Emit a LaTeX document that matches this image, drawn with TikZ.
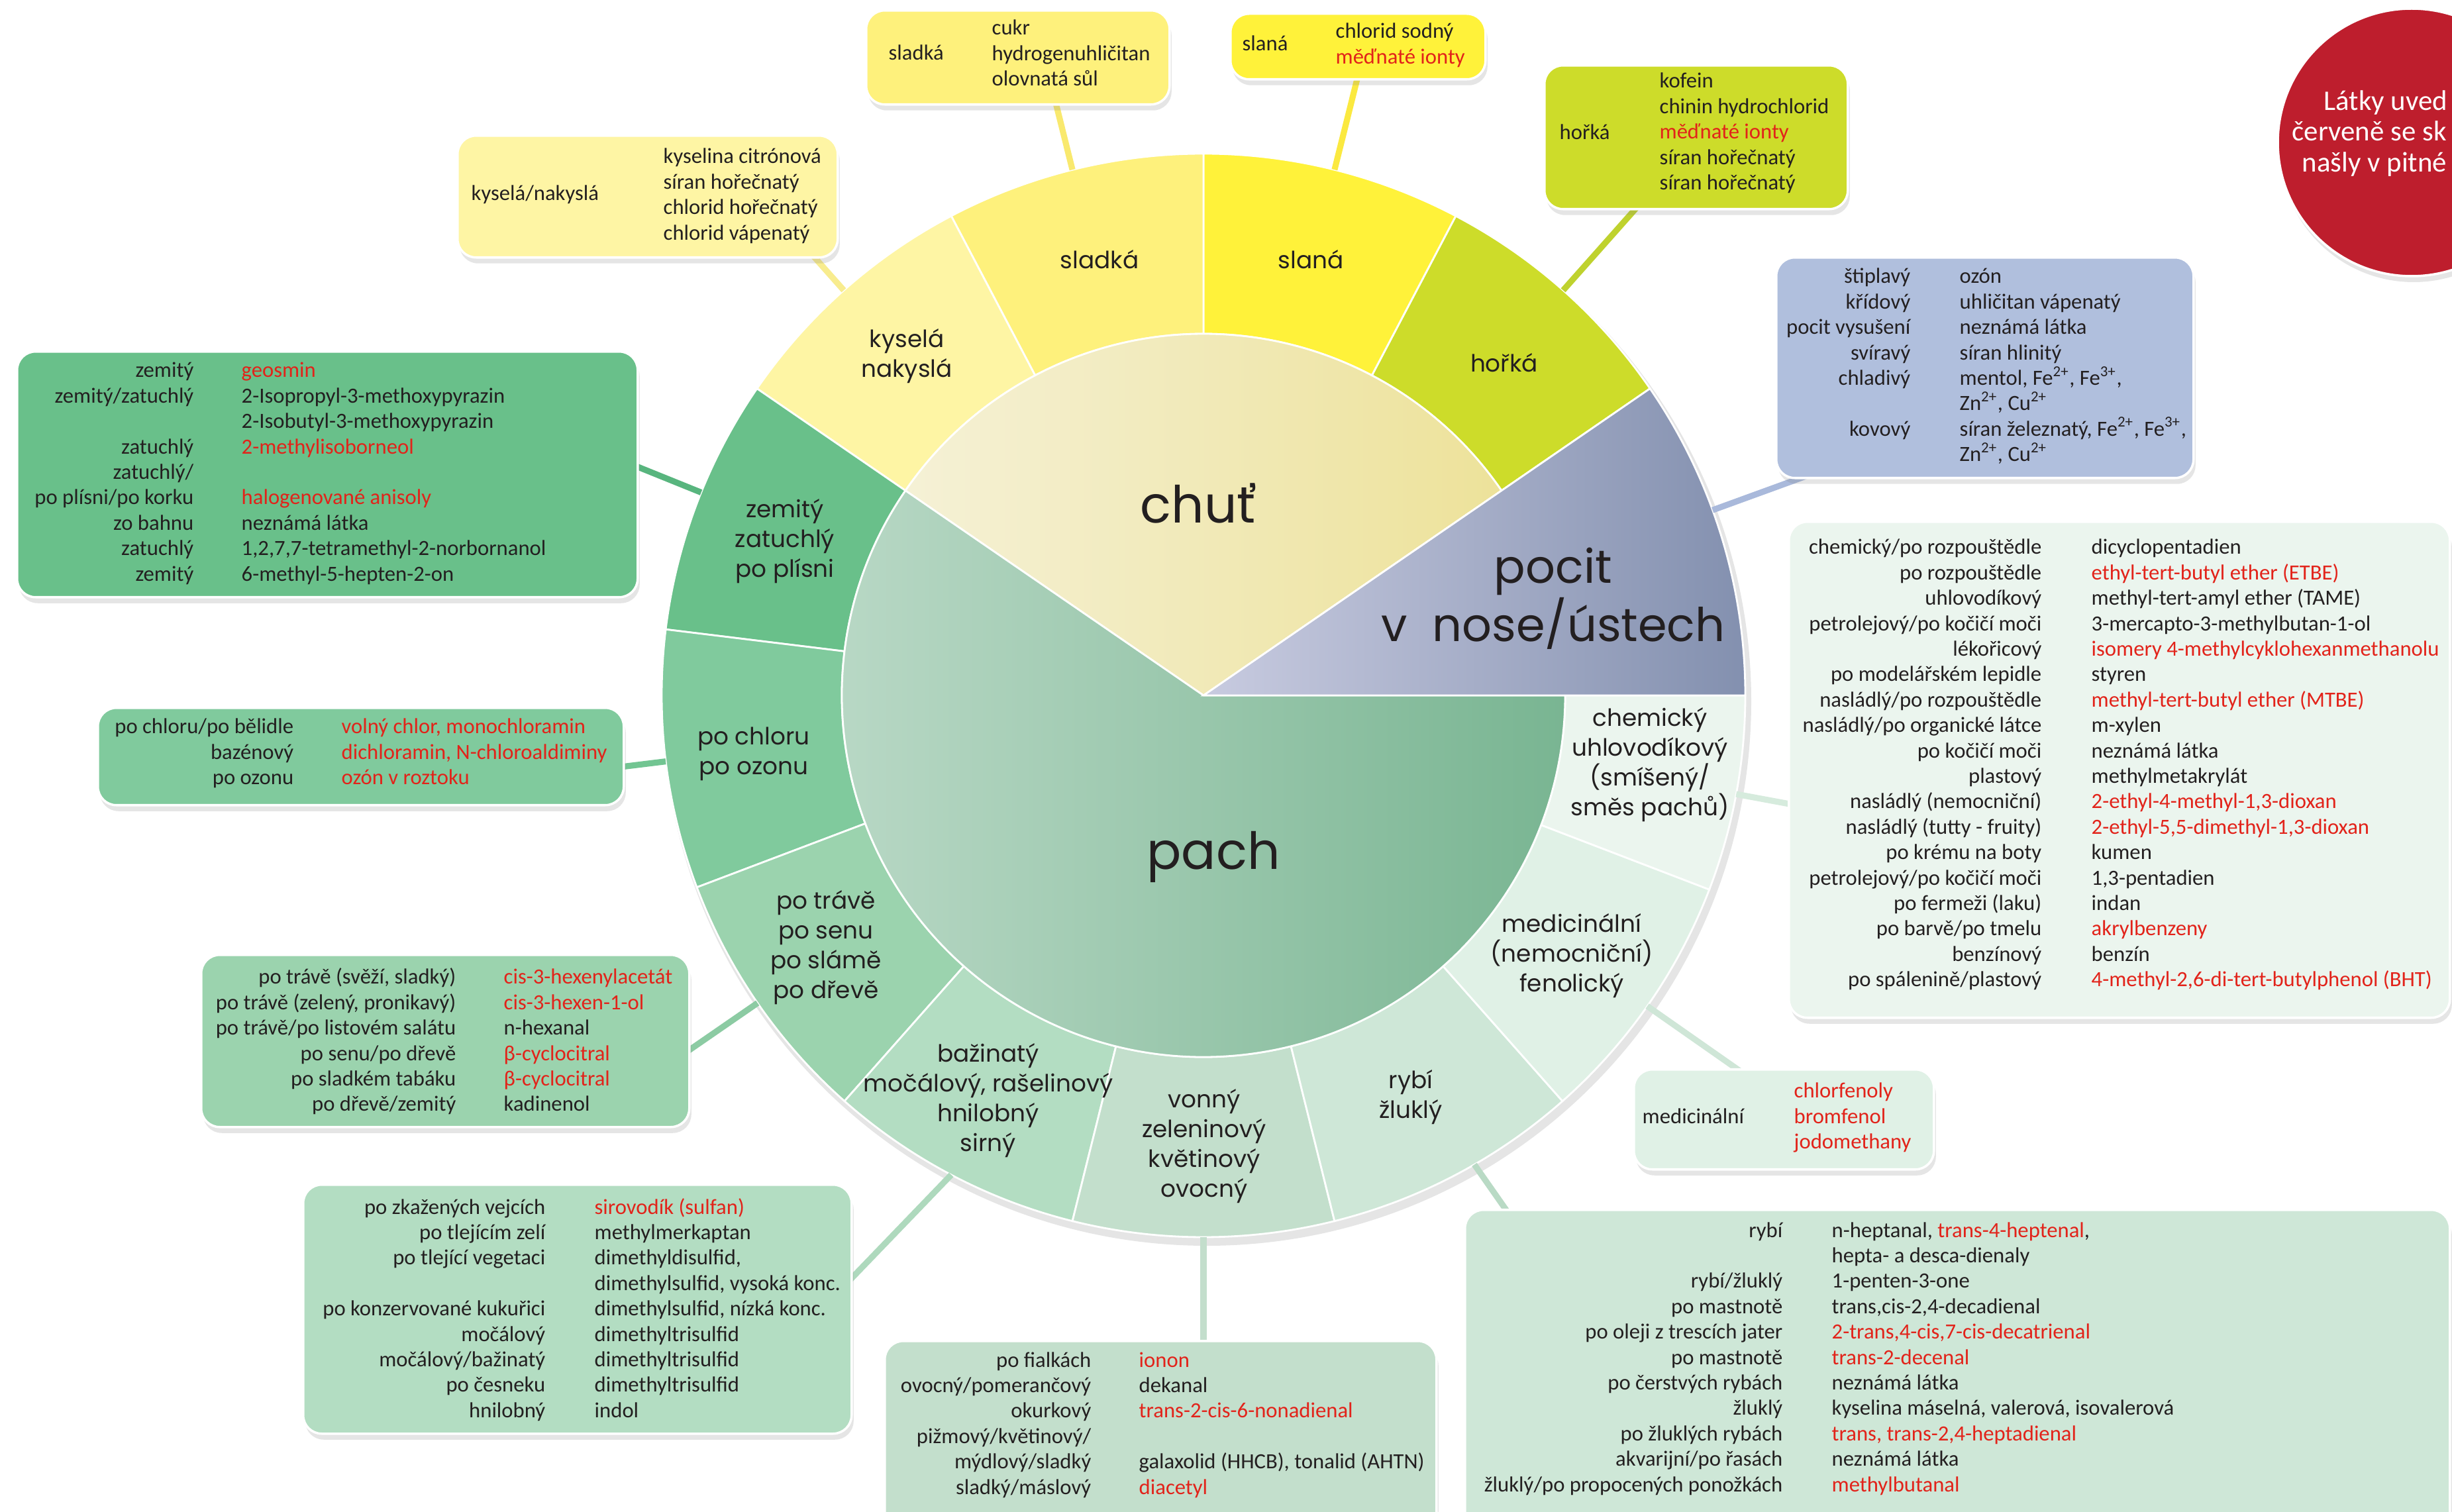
\documentclass[tikz,border=0pt]{standalone}
\usepackage{fontspec}
\setmainfont{Carlito}
\newfontfamily\wheelfont{Poppins}
\usetikzlibrary{shadows}

\definecolor{cTxt}{HTML}{231F20}
\definecolor{txtred}{HTML}{E2231A}
\definecolor{cRed}{HTML}{BE1E2D}
% wheel + box fills
\definecolor{cKys}{HTML}{FEF5A4}
\definecolor{cSlad}{HTML}{FEF17C}
\definecolor{cSlan}{HTML}{FFF23A}
\definecolor{cHork}{HTML}{CDDC2A}
\definecolor{cPocit}{HTML}{B0BFDD}
\definecolor{cZem}{HTML}{69C08A}
\definecolor{cChlor}{HTML}{80CA9D}
\definecolor{cTrava}{HTML}{9BD3AE}
\definecolor{cBazin}{HTML}{B3DDC2}
\definecolor{cVonny}{HTML}{C3DFCC}
\definecolor{cRyby}{HTML}{CEE7D7}
\definecolor{cMedic}{HTML}{E0F1E6}
\definecolor{cChem}{HTML}{EBF5EE}
% inner shading
\definecolor{chutL}{HTML}{F5F1D6}
\definecolor{chutR}{HTML}{EDE29A}
\definecolor{pocitL}{HTML}{C8CBE0}
\definecolor{pocitR}{HTML}{8390AF}
\definecolor{pachL}{HTML}{BCDAC8}
\definecolor{pachR}{HTML}{79B592}
% connectors
\definecolor{lKys}{HTML}{F8EC8E}
\definecolor{lSlad}{HTML}{F9E96E}
\definecolor{lSlan}{HTML}{FBE940}
\definecolor{lHork}{HTML}{BFD22E}
\definecolor{lPocit}{HTML}{A9B9DB}
\definecolor{lChem}{HTML}{D6EBDD}
\definecolor{lMedic}{HTML}{CFE6D7}
\definecolor{lRyby}{HTML}{B9DAC5}
\definecolor{lVonny}{HTML}{C3DECC}
\definecolor{lBazin}{HTML}{AED9BD}
\definecolor{lTrava}{HTML}{8CCBA3}
\definecolor{lChlor}{HTML}{72C592}
\definecolor{lZem}{HTML}{58B57E}

\newcommand{\rd}{\color{txtred}}
% one line per row: key right aligned, value left aligned
\newcommand{\tabrows}[5]{%
  \foreach \kk/\vv [count=\i] in {#5} {
    \node[keytxt] (#1-k\i) at (#2,{#4-(\i-1)*0.384}) {\kk};
    \node[valtxt] (#1-v\i) at (#3,{#4-(\i-1)*0.384}) {\vv};
  }}

\begin{document}
\begin{tikzpicture}[
    every node/.style={inner sep=0pt, text=cTxt},
    tbox/.style={draw=white, line width=1pt, rounded corners=0.28cm, anchor=north west,
      drop shadow={opacity=0.2, shadow xshift=0.03cm, shadow yshift=-0.09cm}},
    keytxt/.style={font=\fontsize{9.3}{11}\selectfont, anchor=base east},
    valtxt/.style={font=\fontsize{9.3}{11}\selectfont, anchor=base west},
    seglbl/.style={font=\wheelfont\fontsize{10.2}{12.8}\selectfont, align=center},
    biglbl/.style={font=\wheelfont\fontsize{22}{21.5}\selectfont, align=center},
    seg/.style={draw=white, line width=0.8pt},
    link/.style={line width=2.6pt}
  ]
    \useasboundingbox (0,0) rectangle (37.02,22.82);
    \clip (0,0) rectangle (37.02,22.82);
    \fill[white] (0,0) rectangle (37.02,22.82);

    \coordinate (C) at (18.17,12.32);

    % wheel
    \begin{scope}[shift={(C)}]
        \fill[black, opacity=0.1] (0.05,-0.09) circle (8.22);
        \foreach \a/\b/\c in {34.5/62.25/cHork, 62.25/90/cSlan, 90/117.75/cSlad,
            117.75/145.5/cKys, 145.5/173/cZem, 173/200.75/cChlor, 200.75/228.5/cTrava,
            228.5/256/cBazin, 256/284/cVonny, 284/311.5/cRyby, 311.5/339/cMedic, 339/360/cChem}
          \filldraw[seg, fill=\c] (\a:5.46) -- (\a:8.18) arc[start angle=\a, end angle=\b, radius=8.18]
            -- (\b:5.46) arc[start angle=\b, end angle=\a, radius=5.46] -- cycle;

        \draw[seg, left color=chutL, right color=chutR] (0,0) -- (34.5:5.46)
            arc[start angle=34.5, end angle=145.5, radius=5.46] -- cycle;
        \draw[seg, left color=pachL, right color=pachR] (0,0) -- (145.5:5.46)
            arc[start angle=145.5, end angle=360, radius=5.46] -- cycle;
        \draw[seg, left color=pocitL, right color=pocitR] (0,0) -- (0:8.18)
            arc[start angle=0, end angle=34.5, radius=8.18] -- cycle;
    \end{scope}

    % connectors
    \path (C) ++(131.6:8.18) coordinate (w-kys) ++(131.6:1.4) coordinate (o-kys);
    \path (C) ++(104:8.18) coordinate (w-slad) ++(104:1.9) coordinate (o-slad);
    \path (C) ++(76:8.18) coordinate (w-slan) ++(76:1.9) coordinate (o-slan);
    \path (C) ++(48.4:8.18) coordinate (w-hork) ++(48.4:2.1) coordinate (o-hork);
    \path (C) ++(20:8.18) coordinate (w-pocit) ++(20:2.2) coordinate (o-pocit);
    \path (C) ++(349.5:8.18) coordinate (w-chem) ++(349.5:1.4) coordinate (o-chem);
    \path (C) ++(325:8.18) coordinate (w-medic) ++(325:2.1) coordinate (o-medic);
    \path (C) ++(300:8.18) coordinate (w-ryby) ++(305:1.4) coordinate (o-ryby);
    \path (C) ++(270:8.18) coordinate (w-vonny) ++(270:2.1) coordinate (o-vonny);
    \path (C) ++(242.25:8.18) coordinate (w-bazin);
    \coordinate (o-bazin) at (12.55,3.2);
    \path (C) ++(214.6:8.18) coordinate (w-trava) ++(214.6:1.9) coordinate (o-trava);
    \path (C) ++(187:8.18) coordinate (w-chlor) ++(187:1.2) coordinate (o-chlor);
    \path (C) ++(158:8.18) coordinate (w-zem) ++(158:1.6) coordinate (o-zem);

    \draw[link, lKys] (w-kys) -- (o-kys);
    \draw[link, lSlad] (w-slad) -- (o-slad);
    \draw[link, lSlan] (w-slan) -- (o-slan);
    \draw[link, lHork] (w-hork) -- (o-hork);
    \draw[link, lPocit] (w-pocit) -- (o-pocit);
    \draw[link, lChem] (w-chem) -- (o-chem);
    \draw[link, lMedic] (w-medic) -- (o-medic);
    \draw[link, lRyby] (w-ryby) -- (o-ryby);
    \draw[link, lVonny] (w-vonny) -- (o-vonny);
    \draw[link, lBazin] (w-bazin) -- (o-bazin);
    \draw[link, lTrava] (w-trava) -- (o-trava);
    \draw[link, lChlor] (w-chlor) -- (o-chlor);
    \draw[link, lZem] (w-zem) -- (o-zem);

    % wheel labels
    \node[seglbl] (l-kys) at (13.69,17.44) {kyselá\\nakyslá};
    \node[seglbl] (l-slad) at (16.60,18.90) {sladká};
    \node[seglbl] (l-slan) at (19.79,18.90) {slaná};
    \node[seglbl] (l-hork) at (22.71,17.34) {hořká};
    \node[seglbl] (l-zem) at (11.85,14.65) {zemitý\\zatuchlý\\po plísni};
    \node[seglbl] (l-chlor) at (11.38,11.44) {po chloru\\po ozonu};
    \node[seglbl] (l-trava) at (12.47,8.51) {po trávě\\po senu\\po slámě\\po dřevě};
    \node[seglbl] (l-bazin) at (14.92,6.20) {bažinatý\\močálový, rašelinový\\hnilobný\\sirný};
    \node[seglbl] (l-vonny) at (18.18,5.51) {vonný\\zeleninový\\květinový\\ovocný};
    \node[seglbl] (l-ryby) at (21.30,6.25) {rybí\\žluklý};
    \node[seglbl] (l-medic) at (23.73,8.39) {medicinální\\(nemocniční)\\fenolický};
    \node[seglbl] (l-chem) at (24.91,11.27) {chemický\\uhlovodíkový\\(smíšený/\\směs pachů)};
    \node[biglbl] (l-chut) at (18.09,15.22) {chuť};
    \node[biglbl] (l-pach) at (18.32,9.88) {pach};
    \node[biglbl, font=\wheelfont\fontsize{20}{21.5}\selectfont] (l-pocit) at (23.45,13.78) {pocit\\v~ nose/ústech};

    % boxes
    \node[tbox, fill=cKys, minimum width=5.74cm, minimum height=1.84cm] (kysBox) at (6.89,20.79) {};
    \node[tbox, fill=cSlad, minimum width=4.58cm, minimum height=1.42cm] (sladBox) at (13.06,22.68) {};
    \node[tbox, fill=cSlan, minimum width=3.85cm, minimum height=0.99cm] (slanBox) at (18.56,22.63) {};
    \node[tbox, fill=cHork, minimum width=4.58cm, minimum height=2.17cm] (horkBox) at (23.30,21.85) {};
    \node[tbox, fill=cPocit, minimum width=6.30cm, minimum height=3.33cm] (pocitBox) at (26.80,18.95) {};
    \node[tbox, fill=cChem, minimum width=9.98cm, minimum height=7.49cm] (chemBox) at (26.99,14.96) {};
    \node[tbox, fill=cMedic, minimum width=4.53cm, minimum height=1.51cm] (medicBox) at (24.65,6.69) {};
    \node[tbox, fill=cRyby, minimum width=14.87cm, minimum height=5.4cm] (rybyBox) at (22.10,4.57) {};
    \node[tbox, fill=cVonny, minimum width=8.33cm, minimum height=3.4cm] (vonnyBox) at (13.34,2.59) {};
    \node[tbox, fill=cBazin, minimum width=8.28cm, minimum height=3.76cm] (bazinBox) at (4.56,4.95) {};
    \node[tbox, fill=cTrava, minimum width=7.37cm, minimum height=2.60cm] (travaBox) at (3.02,8.42) {};
    \node[tbox, fill=cChlor, minimum width=7.94cm, minimum height=1.47cm] (chlorBox) at (1.46,12.15) {};
    \node[tbox, fill=cZem, minimum width=9.37cm, minimum height=3.71cm] (zemBox) at (0.24,17.53) {};

    % box texts
    \node[valtxt] (kys-key) at (7.11,19.79) {kyselá/nakyslá};
    \tabrows{kys}{10.0}{10.01}{20.35}{{}/{kyselina citrónová}, {}/{síran hořečnatý},
      {}/{chlorid hořečnatý}, {}/{chlorid vápenatý}}

    \node[valtxt] (slad-key) at (13.41,21.91) {sladká};
    \tabrows{slad}{14.9}{14.97}{22.29}{{}/{cukr}, {}/{hydrogenuhličitan}, {}/{olovnatá sůl}}

    \node[valtxt] (slan-key) at (18.75,22.05) {slaná};
    \tabrows{slan}{20.1}{20.16}{22.24}{{}/{chlorid sodný}, {}/{\rd měďnaté ionty}}

    \node[valtxt] (hork-key) at (23.54,20.71) {hořká};
    \tabrows{hork}{25.0}{25.05}{21.49}{{}/{kofein}, {}/{chinin hydrochlorid},
      {}/{\rd měďnaté ionty}, {}/{síran hořečnatý}, {}/{síran hořečnatý}}

    \tabrows{pocit}{28.85}{29.58}{18.54}{{štiplavý}/{ozón},
      {křídový}/{uhličitan vápenatý},
      {pocit vysušení}/{neznámá látka},
      {svíravý}/{síran hlinitý},
      {chladivý}/{mentol, Fe\textsuperscript{2+}, Fe\textsuperscript{3+},},
      {}/{Zn\textsuperscript{2+}, Cu\textsuperscript{2+}},
      {kovový}/{síran železnatý, Fe\textsuperscript{2+}, Fe\textsuperscript{3+},},
      {}/{Zn\textsuperscript{2+}, Cu\textsuperscript{2+}}}

    \tabrows{chem}{30.83}{31.57}{14.45}{{chemický/po rozpouštědle}/{dicyclopentadien},
      {po rozpouštědle}/{\rd ethyl-tert-butyl ether (ETBE)},
      {uhlovodíkový}/{methyl-tert-amyl ether (TAME)},
      {petrolejový/po kočičí moči}/{3-mercapto-3-methylbutan-1-ol},
      {lékořicový}/{\rd isomery 4-methylcyklohexanmethanolu},
      {po modelářském lepidle}/{styren},
      {nasládlý/po rozpouštědle}/{\rd methyl-tert-butyl ether (MTBE)},
      {nasládlý/po organické látce}/{m-xylen},
      {po kočičí moči}/{neznámá látka},
      {plastový}/{methylmetakrylát},
      {nasládlý (nemocniční)}/{\rd 2-ethyl-4-methyl-1,3-dioxan},
      {nasládlý (tutty - fruity)}/{\rd 2-ethyl-5,5-dimethyl-1,3-dioxan},
      {po krému na boty}/{kumen},
      {petrolejový/po kočičí moči}/{1,3-pentadien},
      {po fermeži (laku)}/{indan},
      {po barvě/po tmelu}/{\rd akrylbenzeny},
      {benzínový}/{benzín},
      {po spálenině/plastový}/{\rd 4-methyl-2,6-di-tert-butylphenol (BHT)}}

    \node[valtxt] (medic-key) at (24.79,5.86) {medicinální};
    \tabrows{medic}{27.0}{27.08}{6.24}{{}/{\rd chlorfenoly}, {}/{\rd bromfenol}, {}/{\rd jodomethany}}

    \tabrows{ryby}{26.92}{27.65}{4.14}{{rybí}/{n-heptanal, {\rd trans-4-heptenal},},
      {}/{hepta- a desca-dienaly},
      {rybí/žluklý}/{1-penten-3-one},
      {po mastnotě}/{trans,cis-2,4-decadienal},
      {po oleji z trescích jater}/{\rd 2-trans,4-cis,7-cis-decatrienal},
      {po mastnotě}/{\rd trans-2-decenal},
      {po čerstvých rybách}/{neznámá látka},
      {žluklý}/{kyselina máselná, valerová, isovalerová},
      {po žluklých rybách}/{\rd trans, trans-2,4-heptadienal},
      {akvarijní/po řasách}/{neznámá látka},
      {žluklý/po propocených ponožkách}/{\rd methylbutanal}}

    \tabrows{vonny}{16.48}{17.19}{2.18}{{po fialkách}/{\rd ionon},
      {ovocný/pomerančový}/{dekanal},
      {okurkový}/{\rd trans-2-cis-6-nonadienal},
      {pižmový/květinový/}/{},
      {mýdlový/sladký}/{galaxolid (HHCB), tonalid (AHTN)},
      {sladký/máslový}/{\rd diacetyl}}

    \tabrows{bazin}{8.24}{8.97}{4.49}{{po zkažených vejcích}/{\rd sirovodík (sulfan)},
      {po tlejícím zelí}/{methylmerkaptan},
      {po tlející vegetaci}/{dimethyldisulfid,},
      {}/{dimethylsulfid, vysoká konc.},
      {po konzervované kukuřici}/{dimethylsulfid, nízká konc.},
      {močálový}/{dimethyltrisulfid},
      {močálový/bažinatý}/{dimethyltrisulfid},
      {po česneku}/{dimethyltrisulfid},
      {hnilobný}/{indol}}

    \tabrows{trava}{6.89}{7.60}{7.96}{{po trávě (svěží, sladký)}/{\rd cis-3-hexenylacetát},
      {po trávě (zelený, pronikavý)}/{\rd cis-3-hexen-1-ol},
      {po trávě/po listovém salátu}/{n-hexanal},
      {po senu/po dřevě}/{\rd β-cyclocitral},
      {po sladkém tabáku}/{\rd β-cyclocitral},
      {po dřevě/zemitý}/{kadinenol}}

    \tabrows{chlor}{4.44}{5.15}{11.74}{{po chloru/po bělidle}/{\rd volný chlor, monochloramin},
      {bazénový}/{\rd dichloramin, N-chloroaldiminy},
      {po ozonu}/{\rd ozón v roztoku}}

    \tabrows{zem}{2.93}{3.64}{17.12}{{zemitý}/{\rd geosmin},
      {zemitý/zatuchlý}/{2-Isopropyl-3-methoxypyrazin},
      {}/{2-Isobutyl-3-methoxypyrazin},
      {zatuchlý}/{\rd 2-methylisoborneol},
      {zatuchlý/}/{},
      {po plísni/po korku}/{\rd halogenované anisoly},
      {zo bahnu}/{neznámá látka},
      {zatuchlý}/{1,2,7,7-tetramethyl-2-norbornanol},
      {zemitý}/{6-methyl-5-hepten-2-on}}

    % note circle
    \node[circle, fill=cRed, draw=white, line width=1pt, minimum size=4.04cm,
      drop shadow={opacity=0.2, shadow xshift=0.03cm, shadow yshift=-0.09cm}] (note) at (36.41,20.67) {};
    \node[valtxt, text=white, font=\fontsize{12.2}{15}\selectfont] (note1) at (35.08,21.15) {Látky uved};
    \node[valtxt, text=white, font=\fontsize{12.2}{15}\selectfont] (note2) at (34.60,20.69) {červeně se sk};
    \node[valtxt, text=white, font=\fontsize{12.2}{15}\selectfont] (note3) at (34.75,20.22) {našly v pitné};
\end{tikzpicture}
\end{document}
